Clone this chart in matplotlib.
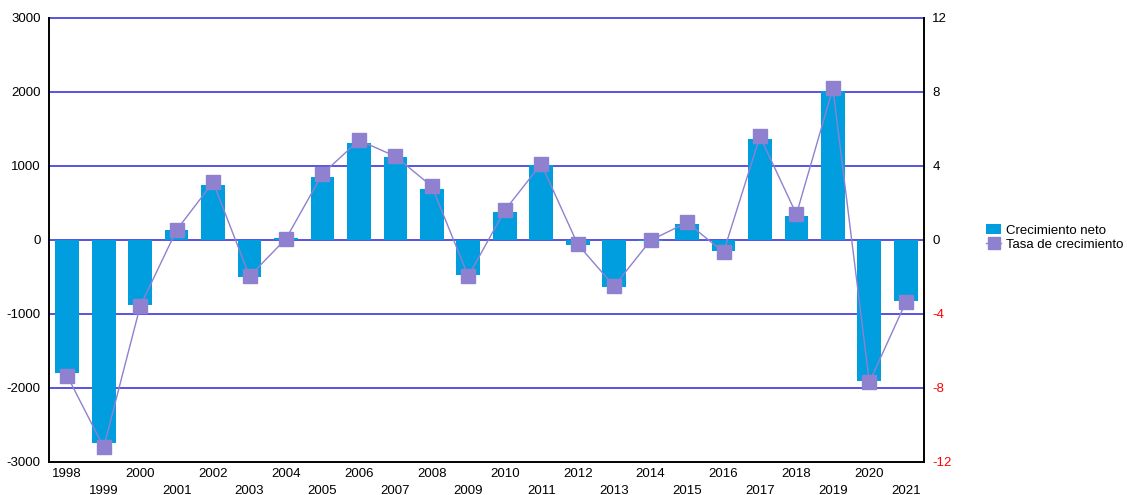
import numpy as np
import matplotlib
matplotlib.use('Agg')
import matplotlib.pyplot as plt

plt.rcParams['font.family'] = ['Liberation Sans', 'DejaVu Sans']
plt.rcParams['axes.unicode_minus'] = False

# Data
years = list(range(1998, 2022))
crecimiento_neto = [-1795, -2740, -875, 135, 745, -495, 25, 850, 1310,
                    1120, 690, -470, 380, 1010, -65, -630, -10, 215,
                    -145, 1365, 325, 2015, -1900, -820]
tasa_crecimiento = [-7.35, -11.2, -3.58, 0.54, 3.12, -1.96, 0.07, 3.57, 5.39,
                    4.52, 2.9, -1.96, 1.6, 4.11, -0.23, -2.5, -0.02, 0.95,
                    -0.66, 5.6, 1.39, 8.2, -7.69, -3.37]

bar_color = '#009EDF'
line_color = '#8F80D0'
grid_color = '#4B45E0'

fig = plt.figure(figsize=(11.27, 4.95), dpi=100)
ax = fig.add_axes([0.0435, 0.0667, 0.7764, 0.897])
ax2 = ax.twinx()

x = np.arange(len(years))
ax.bar(x, crecimiento_neto, width=0.65, color=bar_color, zorder=2,
       label='Crecimiento neto')
ax.set_ylim(-3000, 3000)
ax.set_xlim(-0.5, len(years) - 0.5)
ax.set_yticks(range(-3000, 3001, 1000))
for v in range(-2000, 3001, 1000):
    ax.axhline(v, color=grid_color, lw=1.3, zorder=1, clip_on=False)

ax2.plot(x, tasa_crecimiento, color=line_color, lw=1, marker='s',
         markersize=9.5, markerfacecolor=line_color, markeredgecolor=line_color,
         label='Tasa de crecimiento', zorder=3)
ax2.set_ylim(-12, 12)
ax2.set_yticks(range(-12, 13, 4))
ax2.set_yticklabels([str(v) for v in range(-12, 13, 4)])
for lbl, v in zip(ax2.get_yticklabels(), range(-12, 13, 4)):
    lbl.set_color('red' if v < 0 else 'black')

# x labels in two staggered rows
ax.set_xticks(x)
ax.set_xticklabels(['' for _ in years])
for i, yr in enumerate(years):
    ax.text(i, -0.014 if i % 2 == 0 else -0.052, str(yr),
            transform=ax.get_xaxis_transform(),
            ha='center', va='top', fontsize=9.5)

for a in (ax, ax2):
    a.tick_params(axis='both', length=0, labelsize=9.5)
    a.spines['top'].set_visible(False)
    for s in ('left', 'right', 'bottom'):
        a.spines[s].set_color('black')
        a.spines[s].set_linewidth(1.2)
ax.tick_params(axis='y', pad=6)
ax2.tick_params(axis='y', pad=6)

h1, l1 = ax.get_legend_handles_labels()
h2, l2 = ax2.get_legend_handles_labels()
fig.legend(h1 + h2, l1 + l2, loc='center left', bbox_to_anchor=(0.867, 0.52),
           frameon=False, fontsize=9.5, handlelength=1.1, handletextpad=0.4,
           labelspacing=0.15, markerscale=0.9, borderpad=0.2)

fig.savefig('out.png', dpi=100)
